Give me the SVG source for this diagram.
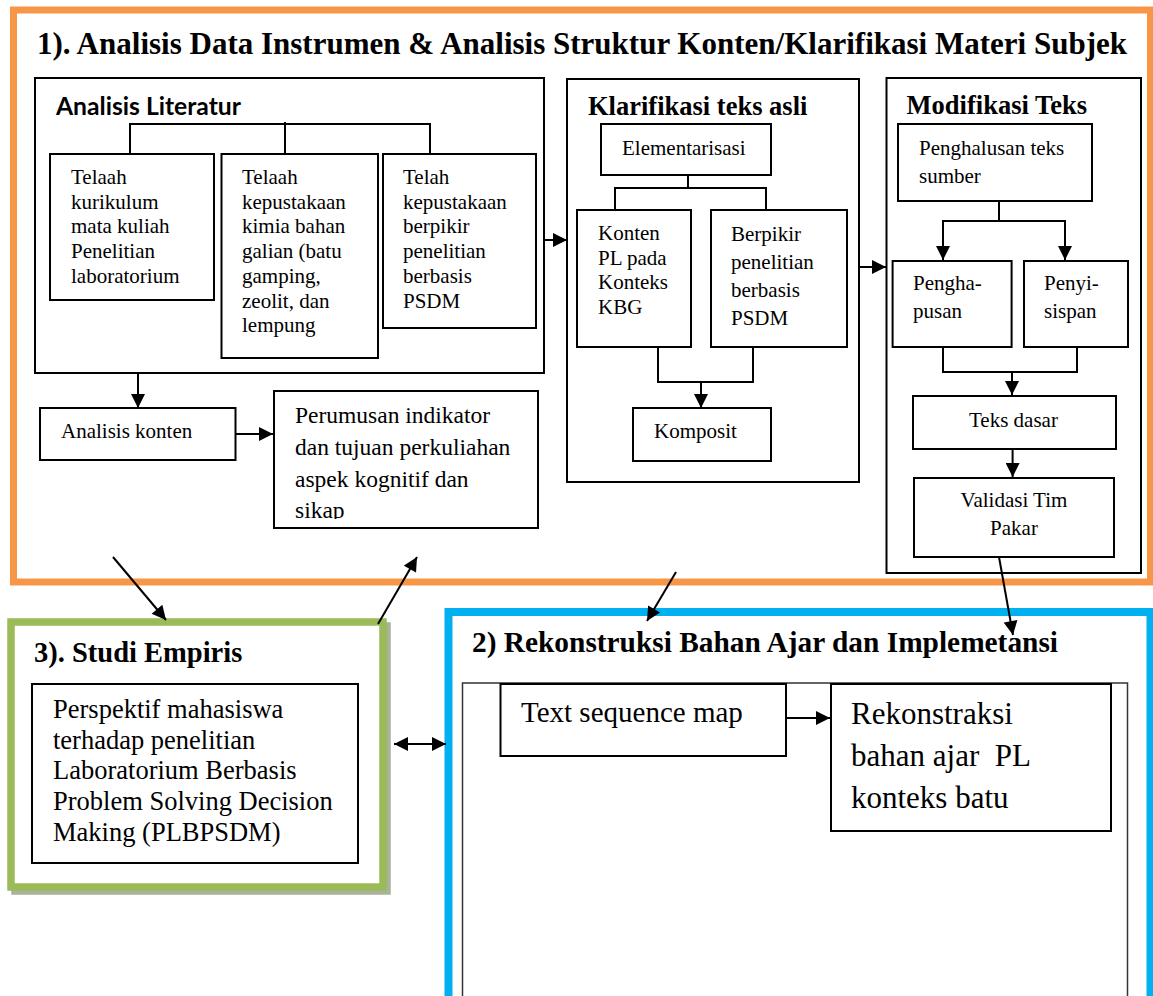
<svg xmlns="http://www.w3.org/2000/svg" width="1153" height="996" viewBox="0 0 1153 996">
<style>
.bx{fill:#fff;stroke:#000;stroke-width:2}
.t{font-family:"Liberation Serif","Times New Roman",serif;fill:#000}
.s21{font-size:21px}
.s23{font-size:23.5px}
.s26{font-size:26.5px}
.s28{font-size:29px}
.s30{font-size:31px}
.tb{font-family:"Liberation Serif","Times New Roman",serif;font-weight:bold;fill:#000}
.ln{fill:none;stroke:#000;stroke-width:2}
.ar{fill:none;stroke:#000;stroke-width:2;marker-end:url(#ah)}
</style>
<defs>
<marker id="ah" viewBox="0 0 10 10" refX="10" refY="5" markerWidth="15" markerHeight="14" markerUnits="userSpaceOnUse" orient="auto-start-reverse">
<path d="M0,0 L10,5 L0,10 z" fill="#000"/>
</marker>
<clipPath id="clipSikap"><rect x="270" y="380" width="280" height="139"/></clipPath>
</defs>
<rect x="0" y="0" width="1153" height="996" fill="#fff"/>

<g id="section1">
<rect x="13.5" y="10" width="1137" height="572" fill="#fff" stroke="#f79646" stroke-width="7"/>
<text class="tb" x="37" y="54" font-size="31" textLength="1090" lengthAdjust="spacingAndGlyphs">1). Analisis Data Instrumen &amp; Analisis Struktur Konten/Klarifikasi Materi Subjek</text>
</g>

<g id="analisis-literatur">
<rect class="bx" x="35" y="78" width="509" height="295"/>
<text x="56" y="115" font-family="Lato,'Liberation Sans',sans-serif" font-weight="bold" font-size="24" textLength="185" lengthAdjust="spacingAndGlyphs">Analisis Literatur</text>
</g>
<g id="telaah-kurikulum">
<rect class="bx" x="50" y="154" width="164" height="146"/>
<text class="t s21" x="71" y="184"><tspan x="71">Telaah</tspan><tspan x="71" dy="24.7">kurikulum</tspan><tspan x="71" dy="24.7">mata kuliah</tspan><tspan x="71" dy="24.7">Penelitian</tspan><tspan x="71" dy="24.7">laboratorium</tspan></text>
</g>
<g id="telaah-kepustakaan">
<rect class="bx" x="221.5" y="154" width="156.5" height="204"/>
<text class="t s21" x="242" y="184"><tspan x="242">Telaah</tspan><tspan x="242" dy="24.7">kepustakaan</tspan><tspan x="242" dy="24.7">kimia bahan</tspan><tspan x="242" dy="24.7">galian (batu</tspan><tspan x="242" dy="24.7">gamping,</tspan><tspan x="242" dy="24.7">zeolit, dan</tspan><tspan x="242" dy="24.7">lempung</tspan></text>
</g>
<g id="telah-kepustakaan">
<rect class="bx" x="383" y="154" width="153" height="174"/>
<text class="t s21" x="403" y="184"><tspan x="403">Telah</tspan><tspan x="403" dy="24.7">kepustakaan</tspan><tspan x="403" dy="24.7">berpikir</tspan><tspan x="403" dy="24.7">penelitian</tspan><tspan x="403" dy="24.7">berbasis</tspan><tspan x="403" dy="24.7">PSDM</tspan></text>
</g>
<g id="analisis-konten">
<rect class="bx" x="40" y="408" width="195.5" height="52"/>
<text class="t s21" x="61" y="438">Analisis konten</text>
</g>
<g id="perumusan">
<rect class="bx" x="274" y="391" width="264" height="137"/>
<g clip-path="url(#clipSikap)">
<text class="t s23" x="295" y="423"><tspan x="295">Perumusan indikator</tspan><tspan x="295" dy="32">dan tujuan perkuliahan</tspan><tspan x="295" dy="32">aspek kognitif dan</tspan><tspan x="295" dy="31">sikap</tspan></text>
</g>
</g>

<g id="klarifikasi">
<rect class="bx" x="567" y="79" width="292" height="403"/>
<text class="tb" x="588" y="115" font-size="26.5">Klarifikasi teks asli</text>
</g>
<g id="elementarisasi">
<rect class="bx" x="601" y="124" width="170" height="51"/>
<text class="t s21" x="622" y="155">Elementarisasi</text>
</g>
<g id="konten-pl">
<rect class="bx" x="577" y="210" width="114" height="137"/>
<text class="t s21" x="598" y="240"><tspan x="598">Konten</tspan><tspan x="598" dy="24.7">PL pada</tspan><tspan x="598" dy="24.7">Konteks</tspan><tspan x="598" dy="24.7">KBG</tspan></text>
</g>
<g id="berpikir">
<rect class="bx" x="711" y="210" width="136" height="137"/>
<text class="t s21" x="731" y="241"><tspan x="731">Berpikir</tspan><tspan x="731" dy="28">penelitian</tspan><tspan x="731" dy="28">berbasis</tspan><tspan x="731" dy="28">PSDM</tspan></text>
</g>
<g id="komposit">
<rect class="bx" x="633" y="408" width="138" height="53"/>
<text class="t s21" x="654" y="438">Komposit</text>
</g>

<g id="modifikasi">
<rect class="bx" x="886.5" y="78" width="254.5" height="495"/>
<text class="tb" x="906.6" y="114" font-size="26.5">Modifikasi Teks</text>
</g>
<g id="penghalusan">
<rect class="bx" x="898" y="124" width="194" height="77"/>
<text class="t s21" x="919" y="155"><tspan x="919">Penghalusan teks</tspan><tspan x="919" dy="28">sumber</tspan></text>
</g>
<g id="penghapusan">
<rect class="bx" x="892.6" y="261" width="119" height="86"/>
<text class="t s21" x="913" y="290"><tspan x="913">Pengha-</tspan><tspan x="913" dy="28">pusan</tspan></text>
</g>
<g id="penyisipan">
<rect class="bx" x="1024" y="261" width="104" height="86"/>
<text class="t s21" x="1044" y="290"><tspan x="1044">Penyi-</tspan><tspan x="1044" dy="28">sispan</tspan></text>
</g>
<g id="teks-dasar">
<rect class="bx" x="913" y="396" width="203" height="53"/>
<text class="t s21" x="969" y="427">Teks dasar</text>
</g>
<g id="validasi">
<rect class="bx" x="914" y="478" width="200" height="79"/>
<text class="t s21" x="1014" y="507" text-anchor="middle"><tspan x="1014">Validasi Tim</tspan><tspan x="1014" dy="28">Pakar</tspan></text>
</g>

<g id="section3">
<rect x="15" y="626" width="372" height="265" fill="none" stroke="#a9b39b" stroke-width="7.5"/>
<rect x="11" y="622" width="372" height="265" fill="#fff" stroke="#9bbb59" stroke-width="7.5"/>
<text class="tb" x="34" y="662" font-size="28.5">3). Studi Empiris</text>
</g>
<g id="perspektif">
<rect class="bx" x="32" y="684" width="326" height="179"/>
<text class="t s26" x="53" y="718"><tspan x="53">Perspektif mahasiswa</tspan><tspan x="53" dy="30.7">terhadap penelitian</tspan><tspan x="53" dy="30.7">Laboratorium Berbasis</tspan><tspan x="53" dy="30.7">Problem Solving Decision</tspan><tspan x="53" dy="30.7">Making (PLBPSDM)</tspan></text>
</g>

<g id="section2">
<rect x="448.5" y="612" width="702" height="430" fill="#fff" stroke="#00b0f0" stroke-width="8"/>
<text class="tb" x="472" y="652" font-size="28.5" textLength="586" lengthAdjust="spacingAndGlyphs">2) Rekonstruksi Bahan Ajar dan Implemetansi</text>
<rect x="462.5" y="683" width="665" height="400" fill="none" stroke="#333" stroke-width="1.5"/>
</g>
<g id="text-sequence-map">
<rect class="bx" x="500.5" y="684" width="285.5" height="72"/>
<text class="t s28" x="521" y="722">Text sequence map</text>
</g>
<g id="rekonstraksi">
<rect class="bx" x="831" y="684" width="280" height="147"/>
<text class="t s30" x="851" y="724" xml:space="preserve"><tspan x="851">Rekonstraksi</tspan><tspan x="851" dy="42">bahan ajar  PL</tspan><tspan x="851" dy="42">konteks batu</tspan></text>
</g>

<g id="connectors">
<path class="ln" d="M130,155 V124 H430 V155 M285,122 V155"/>
<path class="ar" d="M544,240 H567"/>
<path class="ar" d="M138,373 V408"/>
<path class="ar" d="M236,434 H273"/>
<path class="ln" d="M688,175 V188 M615,210 V188 H766 V210"/>
<path class="ln" d="M658,347 V382 H753 V347"/>
<path class="ar" d="M701,382 V408"/>
<path class="ar" d="M859,267 H886"/>
<path class="ln" d="M999,201 V221 H943 M999,221 H1065"/>
<path class="ar" d="M943,220 V260"/>
<path class="ar" d="M1065,220 V260"/>
<path class="ln" d="M943,347 V372 H1077 V347"/>
<path class="ar" d="M1012,372 V395"/>
<path class="ar" d="M1012.6,449 V477"/>
<path class="ar" d="M999,557 L1013,635"/>
<path class="ar" d="M676,572 L647,621"/>
<path class="ar" d="M113,557 L166,620"/>
<path class="ar" d="M378,624 L417,557"/>
<path class="ar" d="M394,744 H446" style="marker-start:url(#ah)"/>
<path class="ar" d="M786,718 H830"/>
</g>
</svg>
